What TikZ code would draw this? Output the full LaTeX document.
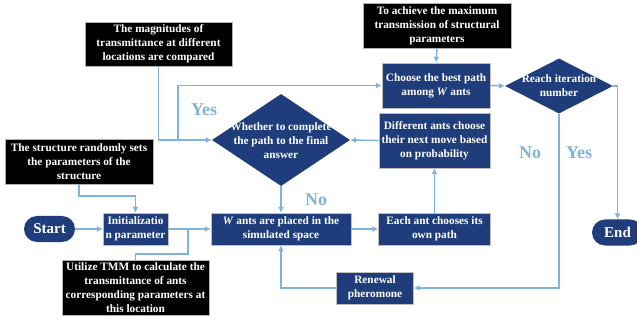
\documentclass[tikz,border=0pt]{standalone}
\usepackage{fontspec}
\setmainfont{Liberation Serif}
\usetikzlibrary{shapes.geometric,arrows.meta}
\definecolor{dblue}{HTML}{1F3D7A}
\definecolor{lblue}{HTML}{7FB3DA}
\tikzset{
  base/.style={inner sep=0pt, align=center, text=white, font=\fontsize{11.3}{14}\selectfont\bfseries},
  bbox/.style={base, rectangle, fill=dblue, draw=gray!50, line width=0.4pt},
  kbox/.style={base, rectangle, fill=black, draw=gray!60, line width=0.6pt},
  dia/.style={diamond, fill=dblue, inner sep=0pt, draw=none},
  pill/.style={base, rounded rectangle, fill=dblue, font=\fontsize{15}{18}\selectfont\bfseries},
  conn/.style={draw=lblue, line width=1.4pt},
  arr/.style={conn, -{Latex[length=6pt,width=6pt]}},
  lab/.style={text=lblue, font=\fontsize{18}{20}\selectfont\bfseries, inner sep=0pt}
}
\usetikzlibrary{shapes.misc}
\begin{document}
\begin{tikzpicture}[x=1pt,y=-1pt]
\useasboundingbox (0,0) rectangle (637,323);
% black boxes
\node[kbox, minimum width=147pt, minimum height=44pt] (mag) at (158.5,44) {The magnitudes of\\transmittance at different\\locations are compared};
\node[kbox, minimum width=148pt, minimum height=45pt] (ach) at (437,25.5) {To achieve the maximum\\transmission of structural\\parameters};
\node[kbox, minimum width=148pt, minimum height=45pt] (str) at (79,161.5) {The structure randomly sets\\the parameters of the\\structure};
\node[kbox, minimum width=147pt, minimum height=55pt] (tmm) at (135.5,287.5) {Utilize TMM to calculate the\\transmittance of ants\\corresponding parameters at\\this location};
% blue boxes
\node[pill, minimum width=51pt, minimum height=26pt] (start) at (49.5,229) {Start};
\node[pill, minimum width=51pt, minimum height=26pt] (end) at (617.5,232.5) {End};
\node[bbox, minimum width=65pt, minimum height=32pt] (init) at (135.5,229) {Initializatio\\n parameter};
\node[bbox, minimum width=140pt, minimum height=32pt] (want) at (281,229) {\textit{W} ants are placed in the\\simulated space};
\node[bbox, minimum width=112pt, minimum height=32pt] (each) at (434.5,229) {Each ant chooses its\\own path};
\node[bbox, minimum width=111pt, minimum height=55pt] (diff) at (434.5,140.5) {Different ants choose\\their next move based\\on probability};
\node[bbox, minimum width=108pt, minimum height=45pt] (cho) at (436,85.5) {Choose the best path\\among \textit{W} ants};
\node[bbox, minimum width=77pt, minimum height=32pt] (ren) at (375,288) {Renewal\\pheromone};
% diamonds
\node[dia, minimum width=138pt, minimum height=92pt] (wh) at (281,140) {};
\node[base] (whtext) at (281,141) {Whether to complete\\the path to the final\\answer};
\node[dia, minimum width=108pt, minimum height=55pt] (rea) at (559,86) {};
\node[base] (reatext) at (559,86) {Reach iteration\\number};
% coordinates
\coordinate (yesj) at (178,140);
\coordinate (tmmj) at (188,229);
\coordinate (tmmk) at (188,254);
\coordinate (strj) at (79,196);
% connectors
\draw[arr] (mag.south) |- (wh.west);
\draw[arr] (yesj) |- (cho.west);
\draw[arr] (str.south) -- (strj) -| (init.north);
\draw[arr] (start.east) -- (init.west);
\draw[arr] (init.east) -- (want.west);
\draw[conn] (tmmj) -- (tmmk) -| (tmm.north);
\draw[arr] (wh.south) -- (want.north);
\draw[arr] (want.east) -- (each.west);
\draw[arr] (each.north) -- (diff.south);
\draw[arr] (diff.west) -- (wh.east);
\draw[arr] (ach.south) -- (cho.north);
\draw[arr] (cho.east) -- (rea.west);
\draw[arr] (rea.south) |- (ren.east);
\draw[arr] (rea.east) -| (end.north);
\draw[arr] (ren.west) -| (want.south);
% labels
\node[lab] (yes1) at (204,110) {Yes};
\node[lab] (no1) at (316,200) {No};
\node[lab] (no2) at (530,153) {No};
\node[lab] (yes2) at (579,153) {Yes};
\end{tikzpicture}
\end{document}
